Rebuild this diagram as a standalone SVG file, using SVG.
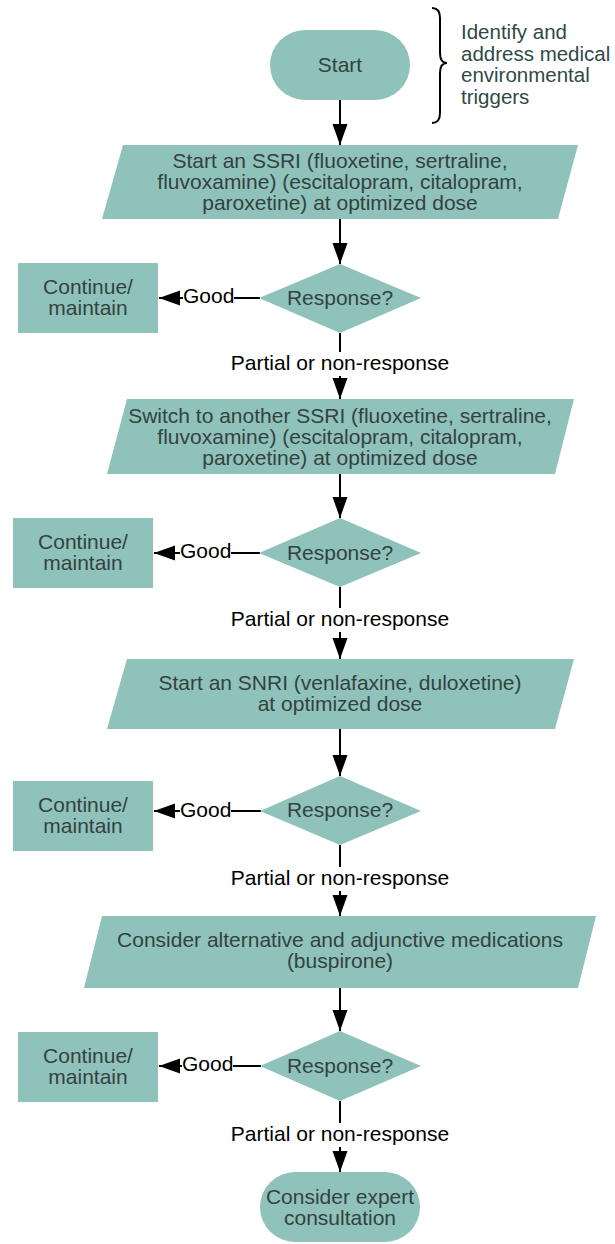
<svg xmlns="http://www.w3.org/2000/svg" width="615" height="1244" viewBox="0 0 615 1244">
  <style>
    .shape { fill: #8fc2bb; stroke: none; }
    .txt { font-family: "Liberation Sans", Arial, sans-serif; font-size: 21px; fill: #34423f; text-anchor: middle; }
    .note { font-family: "Liberation Sans", Arial, sans-serif; font-size: 20.5px; fill: #2f4a46; }
    .lbl { font-family: "Liberation Sans", Arial, sans-serif; font-size: 21px; fill: #000; }
    .edge { fill: none; stroke: #000; stroke-width: 2; }
    .bg { fill: #fff; }
  </style>
  <defs>
    <marker id="arrow" markerUnits="userSpaceOnUse" markerWidth="22" markerHeight="16" refX="21" refY="7.5" orient="auto">
      <path d="M0,0 L21,7.5 L0,15 z" fill="#000"/>
    </marker>
  </defs>
  <rect width="615" height="1244" fill="#fff"/>

  <!-- side note with brace -->
  <g id="note">
    <path class="edge" d="M432,8 Q440,8 440,18 L440,53 Q440,63 447,63 Q440,63 440,73 L440,113 Q440,123 432,123"/>
    <text class="note" x="461" y="39">Identify and</text>
    <text class="note" x="461" y="60.5">address medical</text>
    <text class="note" x="461" y="82">environmental</text>
    <text class="note" x="461" y="103.5">triggers</text>
  </g>

  <!-- connectors -->
  <g id="connectors">
    <path class="edge" d="M340,100 V145" marker-end="url(#arrow)"/>
    <path class="edge" d="M340,219 V264" marker-end="url(#arrow)"/>
    <path class="edge" d="M260,298 H159" marker-end="url(#arrow)"/>
    <path class="edge" d="M340,333 V399" marker-end="url(#arrow)"/>

    <path class="edge" d="M340,474 V518" marker-end="url(#arrow)"/>
    <path class="edge" d="M260,553 H154" marker-end="url(#arrow)"/>
    <path class="edge" d="M340,587 V659" marker-end="url(#arrow)"/>

    <path class="edge" d="M340,729 V776" marker-end="url(#arrow)"/>
    <path class="edge" d="M261,811 H154" marker-end="url(#arrow)"/>
    <path class="edge" d="M340,845 V916" marker-end="url(#arrow)"/>

    <path class="edge" d="M340,988 V1031" marker-end="url(#arrow)"/>
    <path class="edge" d="M261,1066 H159" marker-end="url(#arrow)"/>
    <path class="edge" d="M340,1101 V1172" marker-end="url(#arrow)"/>

    <!-- edge labels -->
    <rect class="bg" x="183" y="285" width="51" height="23"/>
    <text class="lbl" x="183" y="303">Good</text>
    <rect class="bg" x="228" y="352" width="224" height="24"/>
    <text class="lbl" x="340" y="370" text-anchor="middle">Partial or non-response</text>

    <rect class="bg" x="180" y="540" width="51" height="23"/>
    <text class="lbl" x="180" y="558">Good</text>
    <rect class="bg" x="228" y="608" width="224" height="24"/>
    <text class="lbl" x="340" y="626" text-anchor="middle">Partial or non-response</text>

    <rect class="bg" x="180" y="799" width="51" height="23"/>
    <text class="lbl" x="180" y="817">Good</text>
    <rect class="bg" x="228" y="867" width="224" height="24"/>
    <text class="lbl" x="340" y="885" text-anchor="middle">Partial or non-response</text>

    <rect class="bg" x="182" y="1053" width="51" height="23"/>
    <text class="lbl" x="182" y="1071">Good</text>
    <rect class="bg" x="228" y="1123" width="224" height="24"/>
    <text class="lbl" x="340" y="1141" text-anchor="middle">Partial or non-response</text>
  </g>

  <!-- nodes -->
  <g id="start">
    <rect class="shape" x="270" y="30" width="140" height="70" rx="35" ry="35"/>
    <text class="txt" x="340" y="72">Start</text>
  </g>

  <g id="ssri1">
    <polygon class="shape" points="123,145 578,145 558,219 102,219"/>
    <text class="txt" x="340" y="168">Start an SSRI (fluoxetine, sertraline,</text>
    <text class="txt" x="340" y="189">fluvoxamine) (escitalopram, citalopram,</text>
    <text class="txt" x="340" y="210">paroxetine) at optimized dose</text>
  </g>

  <g id="response1">
    <polygon class="shape" points="340,264 421,298 340,333 259,298"/>
    <text class="txt" x="340" y="305">Response?</text>
  </g>

  <g id="continue1">
    <rect class="shape" x="18" y="263" width="140" height="70"/>
    <text class="txt" x="88" y="294">Continue/</text>
    <text class="txt" x="88" y="315">maintain</text>
  </g>

  <g id="ssri2">
    <polygon class="shape" points="127,399 574,399 555,474 107,474"/>
    <text class="txt" x="340" y="423">Switch to another SSRI (fluoxetine, sertraline,</text>
    <text class="txt" x="340" y="444">fluvoxamine) (escitalopram, citalopram,</text>
    <text class="txt" x="340" y="465">paroxetine) at optimized dose</text>
  </g>

  <g id="response2">
    <polygon class="shape" points="340,518 421,553 340,587 259,553"/>
    <text class="txt" x="340" y="560">Response?</text>
  </g>

  <g id="continue2">
    <rect class="shape" x="13" y="518" width="140" height="70"/>
    <text class="txt" x="83" y="549">Continue/</text>
    <text class="txt" x="83" y="570">maintain</text>
  </g>

  <g id="snri">
    <polygon class="shape" points="127,659 574,659 555,729 107,729"/>
    <text class="txt" x="340" y="690">Start an SNRI (venlafaxine, duloxetine)</text>
    <text class="txt" x="340" y="711">at optimized dose</text>
  </g>

  <g id="response3">
    <polygon class="shape" points="340,776 421,811 340,845 260,811"/>
    <text class="txt" x="340" y="817">Response?</text>
  </g>

  <g id="continue3">
    <rect class="shape" x="13" y="781" width="140" height="70"/>
    <text class="txt" x="83" y="812">Continue/</text>
    <text class="txt" x="83" y="833">maintain</text>
  </g>

  <g id="alternatives">
    <polygon class="shape" points="102,916 596,916 578,988 84,988"/>
    <text class="txt" x="340" y="947">Consider alternative and adjunctive medications</text>
    <text class="txt" x="340" y="968">(buspirone)</text>
  </g>

  <g id="response4">
    <polygon class="shape" points="340,1031 421,1066 340,1101 260,1066"/>
    <text class="txt" x="340" y="1073">Response?</text>
  </g>

  <g id="continue4">
    <rect class="shape" x="18" y="1032" width="140" height="70"/>
    <text class="txt" x="88" y="1063">Continue/</text>
    <text class="txt" x="88" y="1084">maintain</text>
  </g>

  <g id="consult">
    <rect class="shape" x="260" y="1172" width="160" height="70" rx="35" ry="35"/>
    <text class="txt" x="340" y="1204">Consider expert</text>
    <text class="txt" x="340" y="1225">consultation</text>
  </g>
</svg>
